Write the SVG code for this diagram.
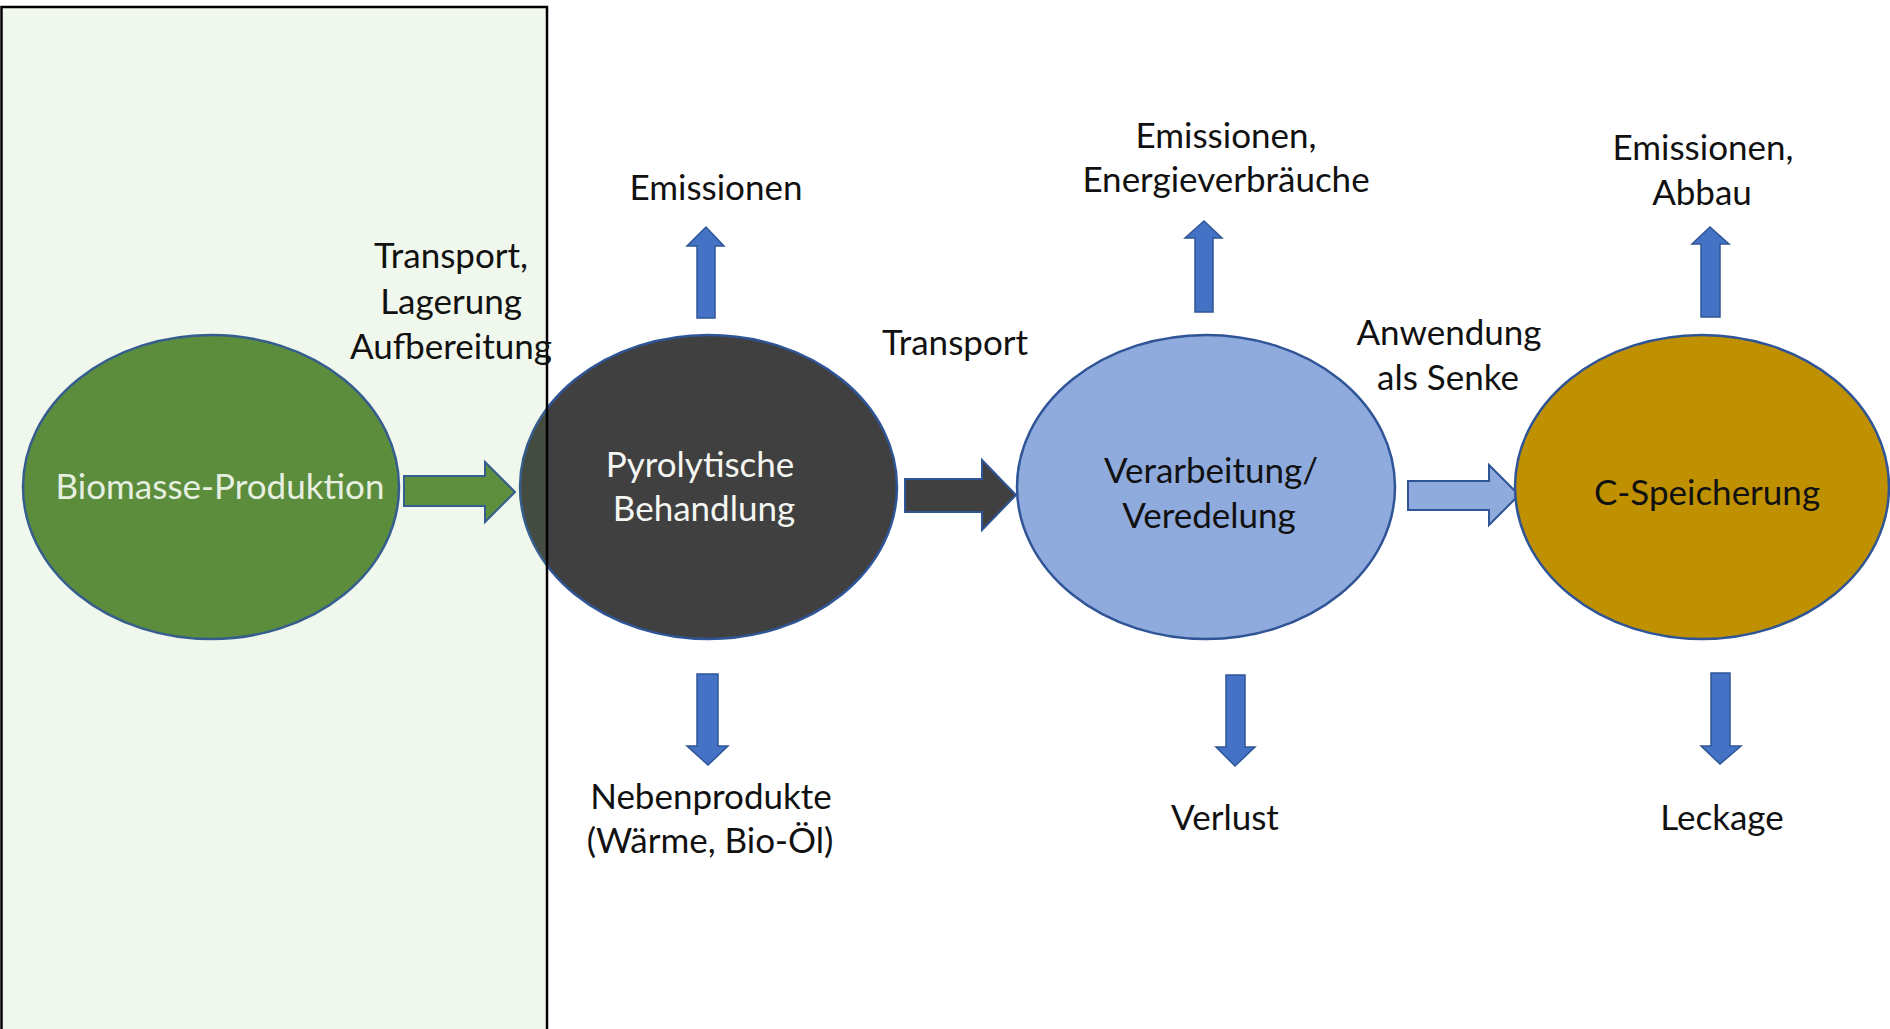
<svg xmlns="http://www.w3.org/2000/svg" width="1890" height="1029" viewBox="0 0 1890 1029">
  <style>
    .node { stroke: #2f5597; stroke-width: 2.5; }
    .lbl { font-family: Lato, "Liberation Sans", sans-serif; font-size: 35px; fill: #111; text-anchor: middle; }
    .in-w { fill: #f4f6f2; }
    .in-b { fill: #111; }
    .arr { stroke: #2f5597; stroke-width: 2; stroke-linejoin: miter; }
    .side { fill: #4472c4; stroke: #2f5597; stroke-width: 1.5; }
  </style>

  <rect width="1890" height="1029" fill="#ffffff"/>

  <!-- process chain arrows and side flows -->
  <g id="connectors">
    <polygon class="arr" fill="#5c8c3e" points="404,476 485,476 485,462 515,492 485,522 485,506 404,506"/>
    <polygon class="arr" fill="#404040" points="905,479 982,479 982,460 1016,495 982,530 982,512 905,512"/>
    <polygon class="arr" fill="#8faadc" points="1408,481 1489,481 1489,465 1519,495 1489,525 1489,510 1408,510"/>

    <polygon class="side" points="697,318 697,246 687,246 706,227 724,246 715,246 715,318"/>
    <polygon class="side" points="1195,312 1195,238 1185,238 1204,221 1222,238 1213,238 1213,312"/>
    <polygon class="side" points="1701,317 1701,244 1692,244 1710,227 1729,244 1720,244 1720,317"/>

    <polygon class="side" points="697,674 718,674 718,746 728,746 708,765 687,746 697,746"/>
    <polygon class="side" points="1226,675 1245,675 1245,747 1255,747 1235,766 1216,747 1226,747"/>
    <polygon class="side" points="1711,673 1730,673 1730,746 1741,746 1720,764 1701,746 1711,746"/>
  </g>

  <g id="node-biomasse">
    <ellipse class="node" cx="211" cy="487" rx="188" ry="152" fill="#5a8a3c"/>
    <text class="lbl in-w" x="220" y="499">Biomasse-Produktion</text>
  </g>

  <g id="node-pyrolyse">
    <ellipse class="node" cx="708.5" cy="487" rx="188.5" ry="152" fill="#404040"/>
    <text class="lbl in-w" x="700" y="477">Pyrolytische</text>
    <text class="lbl in-w" x="704" y="521">Behandlung</text>
  </g>

  <g id="node-verarbeitung">
    <ellipse class="node" cx="1206" cy="487" rx="189" ry="152" fill="#8faadc"/>
    <text class="lbl in-b" x="1211" y="483">Verarbeitung/</text>
    <text class="lbl in-b" x="1209" y="528">Veredelung</text>
  </g>

  <g id="node-speicherung">
    <ellipse class="node" cx="1702" cy="487" rx="187" ry="152" fill="#bf9000"/>
    <text class="lbl in-b" x="1707" y="505">C-Speicherung</text>
  </g>

  <!-- tinted frame around the biomass stage -->
  <g id="frame">
    <rect x="1.5" y="7" width="545.5" height="1030" fill="#70ad47" fill-opacity="0.1" stroke="#000" stroke-width="2.5"/>
  </g>

  <g id="labels">
    <text class="lbl" x="451" y="268">Transport,</text>
    <text class="lbl" x="451" y="314">Lagerung</text>
    <text class="lbl" x="451" y="359">Aufbereitung</text>

    <text class="lbl" x="716" y="200">Emissionen</text>

    <text class="lbl" x="955" y="355">Transport</text>

    <text class="lbl" x="1226" y="148">Emissionen,</text>
    <text class="lbl" x="1226" y="192">Energieverbräuche</text>

    <text class="lbl" x="1449" y="345">Anwendung</text>
    <text class="lbl" x="1448" y="390">als Senke</text>

    <text class="lbl" x="1703" y="160">Emissionen,</text>
    <text class="lbl" x="1702" y="205">Abbau</text>

    <text class="lbl" x="711" y="809">Nebenprodukte</text>
    <text class="lbl" x="710" y="853">(Wärme, Bio-Öl)</text>

    <text class="lbl" x="1225" y="830">Verlust</text>
    <text class="lbl" x="1722" y="830">Leckage</text>
  </g>
</svg>
